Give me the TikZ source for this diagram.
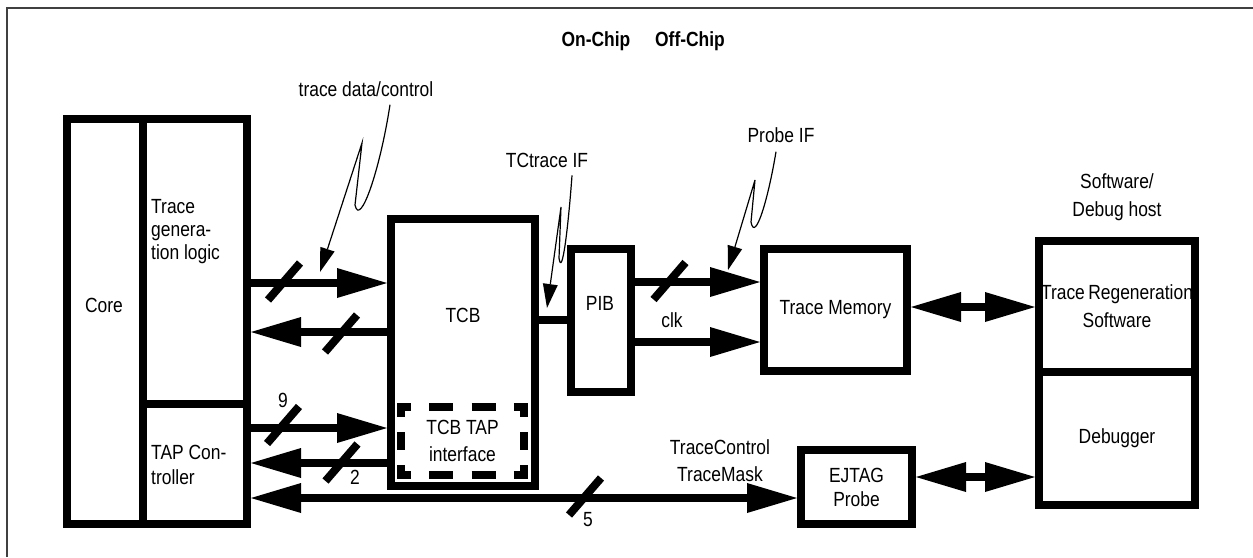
\documentclass[tikz,border=0pt]{standalone}
\usepackage{fontspec}
\setmainfont{Liberation Sans}[FakeStretch=0.85]
\usetikzlibrary{arrows.meta,calc}
\newcommand\busmark[1]{\draw[slashline] ($(#1)+(-16,18.5)$) -- ($(#1)+(16,-18.5)$);}
\begin{document}
\begin{tikzpicture}[x=1pt,y=-1pt,
  box/.style={draw, line width=8pt, rectangle, inner sep=0pt, font=\fontsize{20.5}{24}\selectfont, align=center},
  txt/.style={inner sep=0pt, font=\fontsize{20.5}{24}\selectfont, align=center},
  bus/.style={line width=8pt, -{Triangle[length=50pt,width=30pt,line width=0pt]}},
  dbl/.style={line width=8pt, {Triangle[length=50pt,width=30pt,line width=0pt]}-{Triangle[length=50pt,width=30pt,line width=0pt]}},
  plain/.style={line width=8pt},
  slashline/.style={line width=8pt},
  ptr/.style={line width=1.2pt, -{Triangle[length=24pt,width=15pt,line width=0pt]}},
  dashh/.style={line width=8pt, dash pattern=on 14pt off 18.3pt on 24pt off 18.3pt on 24pt off 18.3pt on 14pt off 10pt},
  dashv/.style={line width=8pt, dash pattern=on 14pt off 15pt on 18pt off 15pt on 14pt off 10pt},
  frame/.style={line width=1.8pt, black!75}
]
\useasboundingbox (0,0) rectangle (1253,557);
\draw[frame] (7,557) -- (7,8) -- (1253,8);

% boxes
\node[box, minimum width=76pt, minimum height=405pt] (core) at (105,321.5) {};
\node[box, minimum width=104pt, minimum height=285pt] (tlogic) at (195,261.5) {};
\node[box, minimum width=104pt, minimum height=120pt] (tap) at (195,464) {};
\node[box, minimum width=144pt, minimum height=267pt] (tcb) at (463,352.5) {};
\node[draw=none, inner sep=0pt, outer sep=0pt, minimum width=123pt, minimum height=68pt,
      font=\fontsize{20.5}{27}\selectfont, align=center] (tti) at (462.5,441) {TCB TAP\\interface};
\node[box, minimum width=60pt, minimum height=143pt] (pib) at (601,320.5) {};
\node[box, minimum width=143pt, minimum height=122pt] (tm) at (835.5,310) {Trace Memory};
\node[box, minimum width=111pt, minimum height=74pt] (ejtag) at (856.5,487) {EJTAG\\Probe};
\node[box, minimum width=156pt, minimum height=131pt, font=\fontsize{20.5}{28}\selectfont] (trs) at (1117,306.5) {Trace\,Regeneration\\Software};
\node[box, minimum width=156pt, minimum height=133pt] (dbg) at (1117,438.5) {Debugger};

% dashed interface box
\draw[dashh] ($(tti.north west)+(-4,0)$) -- ($(tti.north east)+(4,0)$);
\draw[dashh] ($(tti.south west)+(-4,0)$) -- ($(tti.south east)+(4,0)$);
\draw[dashv] ($(tti.north west)+(0,-4)$) -- ($(tti.south west)+(0,4)$);
\draw[dashv] ($(tti.north east)+(0,-4)$) -- ($(tti.south east)+(0,4)$);

% texts inside boxes
\node[txt] (coretxt) at (104,305) {Core};
\node[txt, anchor=west, align=left, font=\fontsize{20.5}{23}\selectfont] (tltxt) at (151,232) {Trace\\genera-\\tion logic};
\node[txt, anchor=west, align=left, font=\fontsize{20.5}{25}\selectfont] (taptxt) at (151,465) {TAP Con-\\troller};
\node[txt] (tcbtxt) at (463,315) {TCB};
\node[txt] (pibtxt) at (600,303) {PIB};

% free labels
\node[txt, font=\bfseries\fontsize{20.5}{24}\selectfont] (onchip) at (596,41) {On-Chip};
\node[txt, font=\bfseries\fontsize{20.5}{24}\selectfont] (offchip) at (690,41) {Off-Chip};
\node[txt, font=\fontsize{20.5}{28}\selectfont] (host) at (1117,197) {Software/\\Debug host};
\node[txt] (tdc) at (366,89) {trace data/control};
\node[txt] (tctr) at (547,160) {TCtrace IF};
\node[txt] (pif) at (781,135) {Probe IF};
\node[txt, font=\fontsize{20.5}{27}\selectfont] (tcm) at (720,461) {TraceControl\\TraceMask};
\node[txt] (n9) at (283,400) {9};
\node[txt] (n2) at (355,477) {2};
\node[txt] (n5) at (588,520) {5};
\node[txt] (clk) at (672,320) {clk};

% buses
\draw[bus] (tlogic.east |- 0,283) -- (tcb.west |- 0,283);
\draw[bus] (tcb.west |- 0,332) -- (tlogic.east |- 0,332);
\draw[bus] (tap.east |- 0,428) -- (tcb.west |- 0,428);
\draw[bus] (tcb.west |- 0,463) -- (tap.east |- 0,463);
\draw[dbl] (tap.east |- 0,498) -- (ejtag.west |- 0,498);
\draw[plain] (tcb.east |- 0,320) -- (pib.west |- 0,320);
\draw[bus] (pib.east |- 0,282) -- (tm.west |- 0,282);
\draw[bus] (pib.east |- 0,342) -- (tm.west |- 0,342);
\draw[dbl] (tm.east |- 0,307) -- (trs.west |- 0,307);
\draw[dbl] (ejtag.east |- 0,477) -- (dbg.west |- 0,477);

% bus width marks
\coordinate (s1) at (284,281.5);
\coordinate (s2) at (341,333.5);
\coordinate (s3) at (283,425);
\coordinate (s4) at (341.5,462.5);
\coordinate (s5) at (585,496.5);
\coordinate (s6) at (669.5,281);
\busmark{s1}\busmark{s2}\busmark{s3}\busmark{s4}\busmark{s5}\busmark{s6}

% callout pointers
\coordinate (d1) at (320,272);
\coordinate (d2) at (547,308);
\coordinate (d3) at (728,270);
\draw[ptr] ($(tdc.south)+(24,8)$) .. controls (380,170) and (360,228) .. (355,205) -- (362,143) -- (d1);
\draw[ptr] ($(tctr.south)+(25,8)$) .. controls (568,230) and (562,278) .. (559,258) -- (561,207) -- (d2);
\draw[ptr] ($(pif.south)+(-5,9)$) .. controls (768,200) and (755,243) .. (751,222) -- (755,180) -- (d3);
\end{tikzpicture}
\end{document}
